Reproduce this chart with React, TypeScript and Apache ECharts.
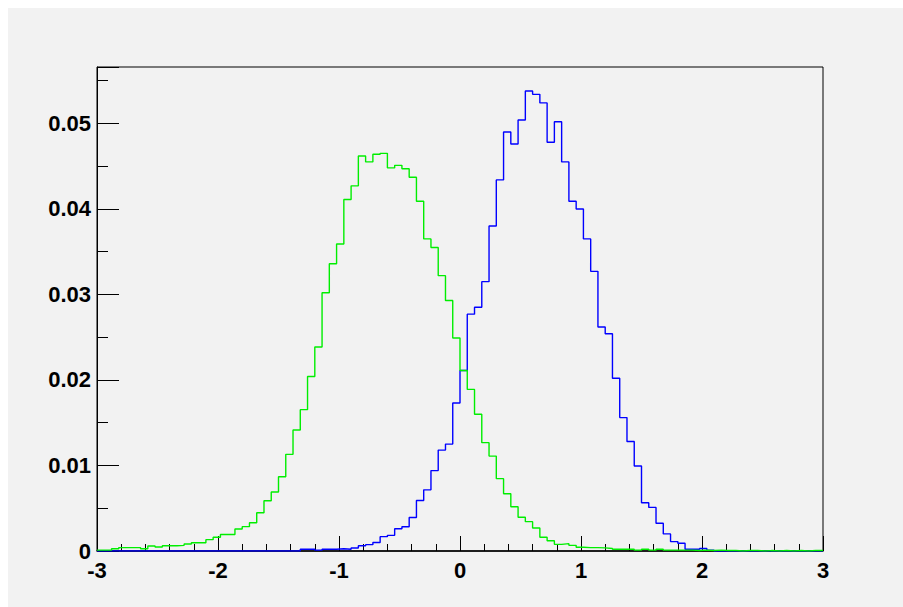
import React, { useEffect, useRef } from "react";
import * as echarts from "echarts";

const X_MIN = -3;
const X_MAX = 3;
const BIN_WIDTH = 0.06;
const Y_MAX = 0.0566;
const X_TICKS = [-3, -2, -1, 0, 1, 2, 3];
const Y_TICKS = ["0", "0.01", "0.02", "0.03", "0.04", "0.05"];

const greenValues = [
  0.0001, 0.0001, 0.00027, 0.0004, 0.0004, 0.0004, 0.00027, 0.00058, 0.00047, 0.00062,
  0.00062, 0.00066, 0.00082, 0.00097, 0.00097, 0.00133, 0.0016, 0.00193, 0.00193, 0.00257,
  0.00285, 0.00331, 0.00448, 0.00588, 0.0069, 0.00869, 0.0113, 0.01415, 0.01653, 0.0204,
  0.02386, 0.0302, 0.0336, 0.0359, 0.0411, 0.0427, 0.0462, 0.0455, 0.0464, 0.0465,
  0.0448, 0.0451, 0.0447, 0.0437, 0.0409, 0.0365, 0.0355, 0.0322, 0.0293, 0.0249,
  0.0211, 0.0189, 0.016, 0.01267, 0.0111, 0.00846, 0.0067, 0.00518, 0.00394, 0.00343,
  0.00269, 0.0016, 0.0012, 0.00078, 0.00086, 0.00066, 0.00043, 0.0004, 0.0004, 0.00037,
  0.0003, 0.0002, 0.0002, 0.0002, 0.0001, 0.0002, 0.0001, 0.0002, 0.0001, 0.0001,
  0.0001, 0.0001, 0.00005, 0.0001, 0.00005, 0.0001, 0.00005, 0.00005, 0, 0.00005,
  0.00005, 0, 0.00005, 0, 0.00005, 0, 0.00005, 0, 0.00005, 0.00005,
];

const blueValues = [
  0, 0, 0, 0, 0, 0, 0, 0, 0, 0,
  0, 0, 0, 0, 0, 0, 0, 0, 0, 0,
  0, 0, 0, 0, 0, 0, 0, 0, 0.0002, 0.0002,
  0.0001, 0.0002, 0.0002, 0.00027, 0.0002, 0.00035, 0.00062, 0.00074, 0.001, 0.00168,
  0.00183, 0.0026, 0.00283, 0.00392, 0.0059, 0.00715, 0.0094, 0.0118, 0.0125, 0.0173,
  0.0211, 0.0277, 0.0285, 0.0315, 0.038, 0.0434, 0.049, 0.0476, 0.0504, 0.0538,
  0.0534, 0.0524, 0.0478, 0.0502, 0.0455, 0.0409, 0.04, 0.0365, 0.0327, 0.0262,
  0.0254, 0.0202, 0.0156, 0.0128, 0.00994, 0.00565, 0.0051, 0.00324, 0.002, 0.0011,
  0.0009, 0.0002, 0.0002, 0.0003, 0.0001, 0, 0, 0, 0, 0,
  0, 0, 0, 0, 0, 0, 0, 0, 0, 0,
];

function toSteps(values: number[]): [number, number][] {
  const pts: [number, number][] = values.map((v, i) => [
    +(X_MIN + i * BIN_WIDTH).toFixed(4),
    v,
  ]);
  pts.push([X_MAX, values[values.length - 1]]);
  return pts;
}

const FONT = "'Liberation Sans', Arial, Helvetica, sans-serif";

export default function App() {
  const ref = useRef<HTMLDivElement>(null);
  useEffect(() => {
    if (!ref.current) return;
    const chart = echarts.init(ref.current, undefined, { renderer: "svg" });
    const labelStyle = {
      color: "#000",
      fontFamily: FONT,
      fontWeight: "bold" as const,
      fontSize: 22,
    };
    chart.setOption({
      animation: false,
      backgroundColor: "#f2f2f2",
      grid: {
        left: 89,
        top: 59,
        width: 726,
        height: 484,
        show: true,
        borderColor: "#000",
        borderWidth: 1,
        backgroundColor: "transparent",
      },
      xAxis: [
        {
          type: "value",
          min: X_MIN,
          max: X_MAX,
          interval: 1,
          axisLine: { show: true, onZero: false, lineStyle: { color: "#000", width: 1.5 } },
          axisTick: { show: true, inside: true, length: 15, lineStyle: { color: "#000" } },
          minorTick: { show: true, splitNumber: 5, length: 7, lineStyle: { color: "#000" } },
          splitLine: { show: false },
          axisLabel: {
            ...labelStyle,
            margin: 8,
            formatter: (v: number) => {
              const r = Math.round(v);
              return X_TICKS.includes(r) && Math.abs(v - r) < 1e-6 ? String(r) : "";
            },
          },
        },
      ],
      yAxis: [
        {
          type: "value",
          min: 0,
          max: Y_MAX,
          interval: 0.01,
          axisLine: { show: true, onZero: false, lineStyle: { color: "#000", width: 1 } },
          axisTick: { show: true, inside: true, length: 22, lineStyle: { color: "#000" } },
          splitLine: { show: false },
          axisLabel: {
            ...labelStyle,
            margin: 6,
            formatter: (v: number) => {
              const idx = Math.round(v / 0.01);
              if (Math.abs(v - idx * 0.01) > 1e-7) return "";
              return Y_TICKS[idx] ?? "";
            },
          },
        },
        {
          type: "value",
          position: "left",
          min: 0,
          max: Y_MAX,
          interval: 0.005,
          axisLine: { show: false, onZero: false },
          axisTick: { show: true, inside: true, length: 11, lineStyle: { color: "#000" } },
          splitLine: { show: false },
          axisLabel: { show: false },
        },
      ],
      series: [
        {
          type: "line",
          step: "end",
          data: toSteps(blueValues),
          showSymbol: false,
          symbol: "none",
          lineStyle: { color: "#0000ff", width: 1.4 },
          z: 2,
        },
        {
          type: "line",
          step: "end",
          data: toSteps(greenValues),
          showSymbol: false,
          symbol: "none",
          lineStyle: { color: "#00ee00", width: 1.4 },
          z: 3,
        },
      ],
    });
    return () => chart.dispose();
  }, []);
  return (
    <div
      ref={ref}
      style={{ position: "fixed", left: 8, top: 8, width: 895, height: 599 }}
    />
  );
}
